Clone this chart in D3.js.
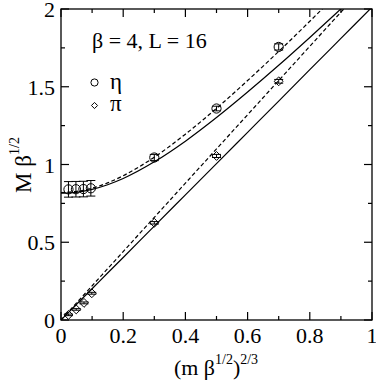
<!DOCTYPE html>
<html><head><meta charset="utf-8">
<script src="https://cdn.jsdelivr.net/npm/d3@7"></script>
<style>
body{margin:0;background:#fff}
svg{display:block}
</style>
</head><body>
<svg id="c" width="376" height="382"></svg>
<script>
// ---- data ----
const xMajorTicks = [0, 0.2, 0.4, 0.6, 0.8, 1];
const xMinorTicks = [0.1, 0.3, 0.5, 0.7, 0.9];
const yMajorTicks = [0, 0.5, 1, 1.5, 2];
const yMinorTicks = [0.25, 0.75, 1.25, 1.75];
const xTickLabels = ["0", "0.2", "0.4", "0.6", "0.8", "1"];
const yTickLabels = ["0", "0.5", "1", "1.5", "2"];

const etaX   = [0.024, 0.048, 0.072, 0.096, 0.3, 0.5, 0.7];
const etaY   = [0.840, 0.841, 0.842, 0.847, 1.045, 1.360, 1.756];
const etaErr = [0.05, 0.05, 0.05, 0.05, 0.02, 0.015, 0.02];

const piX   = [0.024, 0.049, 0.074, 0.099, 0.3, 0.5, 0.7];
const piY   = [0.033, 0.068, 0.110, 0.172, 0.625, 1.055, 1.535];
const piErr = [0.005, 0.005, 0.006, 0.006, 0.008, 0.01, 0.012];

const fitX      = [0, 0.05, 0.1, 0.15, 0.2, 0.3, 0.4, 0.5, 0.6, 0.7, 0.8, 0.9, 1.0];
const etaSolid  = [0.815, 0.821, 0.840, 0.870, 0.910, 1.017, 1.150, 1.302, 1.466, 1.638, 1.817, 2.001, 2.187];
const etaDashed = [0.820, 0.827, 0.848, 0.882, 0.928, 1.047, 1.195, 1.361, 1.540, 1.727, 1.921, 2.120, 2.321];
const piSolid   = [0, 0.101, 0.201, 0.302, 0.402, 0.604, 0.805, 1.006, 1.207, 1.408, 1.610, 1.811, 2.012];
const piDashed  = [0, 0.110, 0.220, 0.330, 0.440, 0.660, 0.880, 1.100, 1.320, 1.540, 1.760, 1.980, 2.200];

// ---- layout ----
const FONT = '"Liberation Serif"';
const L = 61, R = 372, T = 9, B = 320;
const svg = d3.select("#c");
const x = d3.scaleLinear().domain([0, 1]).range([L, R]);
const y = d3.scaleLinear().domain([0, 2]).range([B, T]);

function txt(sel) { return sel.append("text").style("font-family", FONT).style("fill", "#000"); }

svg.append("defs").append("clipPath").attr("id", "clip")
  .append("rect").attr("x", L).attr("y", T).attr("width", R - L).attr("height", B - T);

const g = svg.append("g").attr("clip-path", "url(#clip)");
const line = d3.line().x(d => x(d[0])).y(d => y(d[1])).curve(d3.curveMonotoneX);
const curves = [
  {v: etaSolid, dash: null},
  {v: etaDashed, dash: "4,2.5"},
  {v: piSolid, dash: null},
  {v: piDashed, dash: "4,2.5"}
];
curves.forEach(c => {
  g.append("path").attr("d", line(fitX.map((xx, i) => [xx, c.v[i]])))
    .attr("fill", "none").attr("stroke", "#000").attr("stroke-width", 1.2)
    .attr("stroke-dasharray", c.dash);
});

// error bars
function errBars(xs, ys, es) {
  xs.forEach((xx, i) => {
    const cx = x(xx), y1 = y(ys[i] - es[i]), y2 = y(ys[i] + es[i]);
    g.append("line").attr("x1", cx).attr("x2", cx).attr("y1", y1).attr("y2", y2)
      .attr("stroke", "#000").attr("stroke-width", 1);
    [y1, y2].forEach(yy => g.append("line").attr("x1", cx - 4.5).attr("x2", cx + 4.5)
      .attr("y1", yy).attr("y2", yy).attr("stroke", "#000").attr("stroke-width", 1));
  });
}
errBars(etaX, etaY, etaErr);
errBars(piX, piY, piErr);

g.selectAll("circle.eta").data(etaX).enter().append("circle")
  .attr("cx", d => x(d)).attr("cy", (d, i) => y(etaY[i])).attr("r", 4.6)
  .attr("fill", "none").attr("stroke", "#000").attr("stroke-width", 1);

const dia = d3.symbol().type(d3.symbolDiamond2).size(50);
g.selectAll("path.pi").data(piX).enter().append("path")
  .attr("d", dia).attr("transform", (d, i) => `translate(${x(d)},${y(piY[i])})`)
  .attr("fill", "none").attr("stroke", "#000").attr("stroke-width", 1);

// frame
svg.append("rect").attr("x", L).attr("y", T).attr("width", R - L).attr("height", B - T)
  .attr("fill", "none").attr("stroke", "#000").attr("stroke-width", 1.3);

// ticks
const tk = svg.append("g").attr("stroke", "#000").attr("stroke-width", 1.2);
function xt(vals, len) {
  vals.forEach(v => {
    tk.append("line").attr("x1", x(v)).attr("x2", x(v)).attr("y1", B).attr("y2", B - len);
    tk.append("line").attr("x1", x(v)).attr("x2", x(v)).attr("y1", T).attr("y2", T + len);
  });
}
function yt(vals, len) {
  vals.forEach(v => {
    tk.append("line").attr("y1", y(v)).attr("y2", y(v)).attr("x1", L).attr("x2", L + len);
    tk.append("line").attr("y1", y(v)).attr("y2", y(v)).attr("x1", R).attr("x2", R - len);
  });
}
xt(xMajorTicks, 8); xt(xMinorTicks, 4);
yt(yMajorTicks, 8); yt(yMinorTicks, 4);

// tick labels
xMajorTicks.forEach((v, i) => txt(svg).attr("x", x(v)).attr("y", 343)
  .attr("text-anchor", "middle").style("font-size", "22px").text(xTickLabels[i]));
yMajorTicks.forEach((v, i) => txt(svg).attr("x", 55).attr("y", y(v) + 8)
  .attr("text-anchor", "end").style("font-size", "22px").text(yTickLabels[i]));

// axis labels
const xl = txt(svg).attr("x", 216).attr("y", 375).attr("text-anchor", "middle").style("font-size", "22px");
xl.append("tspan").text("(m β");
xl.append("tspan").style("font-size", "14px").attr("dy", -11).text("1/2");
xl.append("tspan").attr("dy", 11).text(")");
xl.append("tspan").style("font-size", "14px").attr("dy", -11).text("2/3");

const yl = txt(svg).attr("transform", "translate(31,165) rotate(-90)")
  .attr("text-anchor", "middle").style("font-size", "23px");
yl.append("tspan").text("M β");
yl.append("tspan").style("font-size", "14px").attr("dy", -12).text("1/2");

// annotation & legend
txt(svg).attr("x", 92).attr("y", 48).style("font-size", "22px").text("β = 4, L = 16");
svg.append("circle").attr("cx", 94.5).attr("cy", 82.5).attr("r", 3.6)
  .attr("fill", "none").attr("stroke", "#000").attr("stroke-width", 1);
svg.append("path").attr("d", d3.symbol().type(d3.symbolDiamond2).size(24))
  .attr("transform", "translate(94.5,105.5)")
  .attr("fill", "none").attr("stroke", "#000").attr("stroke-width", 1);
txt(svg).attr("x", 110).attr("y", 89).style("font-size", "23px").text("η");
txt(svg).attr("x", 110).attr("y", 111).style("font-size", "23px").text("π");
</script>
</body></html>
